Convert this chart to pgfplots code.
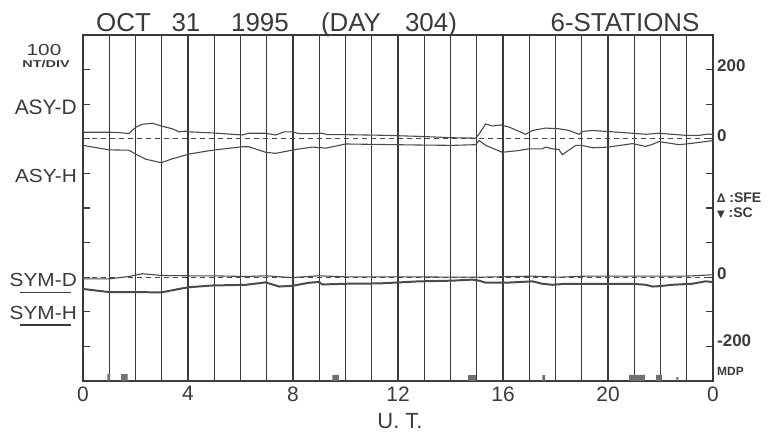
\documentclass[border=0pt]{standalone}
\usepackage{pgfplots}
\pgfplotsset{compat=1.18}
\usepackage{pgfplotstable}
\usepackage{fontspec}
\usepackage{graphicx}
\setmainfont{Liberation Sans}
\newfontfamily\symfont{DejaVu Sans}
\definecolor{ink}{HTML}{3A3A3A}
\definecolor{curve}{HTML}{4A4A4A}
\definecolor{bar}{HTML}{707070}

% ASY-D (nT, plotted upward from ASY baseline)
\pgfplotstableread{
h v
0 19
0.99 19
1.37 18
1.75 15
2.0 33
2.26 42
2.64 45
2.98 37
3.4 29
3.66 20
3.9 22
4.04 20
4.93 17
6.07 11
6.32 16
6.96 16
7.34 11
7.66 20
7.97 20
8.23 15
8.74 15
9.12 16
9.3 12
10.0 12
11.5 10
12.8 7
14.07 3
14.96 2
15.09 14
15.34 43
15.59 37
15.91 40
16.23 34
16.86 13
17.12 24
17.62 31
18.13 29
18.51 24
18.9 13
19.02 21
19.4 24
20.0 21
20.93 16
21.44 13
21.94 16
22.45 13
22.96 10
23.47 10
23.85 14
24 12
}\asyD

% ASY-H (nT, plotted downward from ASY baseline)
\pgfplotstableread{
h v
0 19
0.99 32
1.75 33
2.0 44
2.39 59
2.98 69
3.4 58
4.04 44
4.93 33
6.07 23
6.32 23
6.96 39
7.34 42
8.1 31
8.74 24
9.26 27
10 15
12.8 18
14.07 19
14.96 17
15.09 5
15.34 19
15.97 39
16.6 34
16.99 29
17.5 29
17.62 24
17.88 29
18.13 31
18.26 46
18.39 39
18.77 19
19.02 19
19.4 26
20 24
20.93 14
21.44 22
21.69 16
21.94 8
22.7 17
23.1 14
23.72 8
24 5
}\asyH

% SYM-D (nT)
\pgfplotstableread{
h v
0 -5
0.99 -5
1.75 2
2.26 10
2.98 5
4.04 4
4.93 4
6.2 2
6.96 4
7.34 2
7.97 -1
8.99 4
10 1
12.8 1
14.07 0
15.09 0
17.12 3
18.13 0
19.15 3
20.42 3
21.69 3
22.96 3
24 7
}\symD

% SYM-H (nT)
\pgfplotstableread{
h v
0 -34
0.99 -43
2.0 -43
2.98 -44
3.66 -34
4.04 -29
4.93 -24
6.2 -22
6.96 -15
7.47 -27
7.97 -25
8.61 -16
8.99 -14
9.12 -21
10 -19
11.3 -18
12.8 -12
14.07 -10
14.83 -7
15.09 -10
15.34 -16
16.1 -16
17.12 -12
17.5 -19
17.88 -22
18.39 -19
19.15 -19
20.42 -19
20.93 -19
21.44 -22
21.69 -27
21.94 -26
22.45 -22
23.2 -19
23.72 -12
24 -14
}\symH

% MDP bars (hour, height)
\pgfplotstableread{
h v
0 0
0.93 0
0.93 20
1.03 20
1.03 0
1.45 0
1.45 20
1.70 20
1.70 0
9.50 0
9.50 18
9.75 18
9.75 0
14.67 0
14.67 17
14.97 17
14.97 0
17.50 0
17.50 17
17.60 17
17.60 0
20.80 0
20.80 18
21.40 18
21.40 0
21.83 0
21.83 18
22.06 18
22.06 0
22.60 0
22.60 12
22.68 12
22.68 0
24 0
}\mdp

\begin{document}
\begin{tikzpicture}[x=1bp,y=1bp]
\useasboundingbox (-83,-53) rectangle (686,381);
\begin{axis}[
  at={(0,0)}, anchor=south west,
  scale only axis, width=630bp, height=346bp,
  xmin=0, xmax=24, ymin=0, ymax=1000,
  axis line style={ink, line width=1.5pt},
  xtick={0,1,...,24},
  xticklabels={0,,,,4,,,,8,,,,12,,,,16,,,,20,,,,0},
  xmajorgrids,
  major grid style={ink, line width=1.3pt},
  xtick style={draw=none},
  ytick={100,200,...,900}, yticklabels={},
  ytick pos=both, tick align=inside,
  major tick length=7bp,
  ytick style={ink, line width=1.2pt},
  /pgf/number format/assume math mode=true,
  xticklabel style={font=\fontsize{21}{22}\selectfont, text=ink, yshift=-2bp},
  clip=true,
]
\addplot[curve, line width=1.0pt, dash pattern=on 5bp off 4bp] coordinates {(0,700) (24,700)};
\addplot[curve, line width=1.0pt, dash pattern=on 5bp off 4bp] coordinates {(0,300) (24,300)};
\addplot[curve, line width=1.1pt] table[x=h, y expr=700+\thisrow{v}] {\asyD};
\addplot[curve, line width=1.1pt] table[x=h, y expr=700-\thisrow{v}] {\asyH};
\addplot[curve, line width=1.1pt] table[x=h, y expr=300+\thisrow{v}] {\symD};
\addplot[curve, line width=2.0pt] table[x=h, y expr=300+\thisrow{v}] {\symH};
\addplot[fill=bar, draw=none] table[x=h, y=v] {\mdp};
\end{axis}

% title
\begin{scope}[every node/.style={text=ink, inner sep=0pt, font=\fontsize{26}{28}\selectfont}]
\node[anchor=base] at (40.5,349) {OCT};
\node[anchor=base] at (103,349) {31};
\node[anchor=base] at (177,349) {1995};
\node[anchor=base] at (268,349) {(DAY};
\node[anchor=base] at (348,349) {304)};
\node[anchor=base] at (542,349) {6-STATIONS};
\end{scope}

% left labels
\begin{scope}[every node/.style={text=ink, inner sep=0pt}]
\node[anchor=base, font=\fontsize{16}{17}\selectfont] at (-39,325) {\scalebox{1.3}[1]{100}};
\node[anchor=base, font=\bfseries\fontsize{10}{11}\selectfont] at (-37,313) {\scalebox{1.45}[1]{NT/DIV}};
\node[anchor=base east, font=\fontsize{21}{22}\selectfont] at (-6,266) {ASY-D};
\node[anchor=base east, font=\fontsize{19}{20}\selectfont] at (-6,198) {\scalebox{1.1}[1]{ASY-H}};
\node[anchor=base east, font=\fontsize{19}{20}\selectfont] at (-6,94) {\scalebox{1.1}[1]{SYM-D}};
\node[anchor=base east, font=\fontsize{19}{20}\selectfont] at (-6,61) {\scalebox{1.1}[1]{SYM-H}};
\end{scope}
\draw[ink, line width=0.8pt] (-63,89) -- (-12,89);
\draw[ink, line width=2.2pt] (-63,56) -- (-12,56);

% right labels
\begin{scope}[every node/.style={text=ink, inner sep=0pt, anchor=base west, font=\bfseries\fontsize{17}{18}\selectfont}]
\node at (634,309) {200};
\node at (634,239) {0};
\node[font=\bfseries\fontsize{14}{15}\selectfont] at (634,178) {{\symfont\fontsize{12}{12}\selectfont ∆} :SFE};
\node[font=\bfseries\fontsize{14}{15}\selectfont] at (634,163) {{\symfont\fontsize{10}{12}\selectfont ▼} :SC};
\node at (634,101) {0};
\node at (634,34) {-200};
\node[font=\bfseries\fontsize{12}{13}\selectfont] at (634,5) {MDP};
\end{scope}

% x axis label
\node[anchor=base, text=ink, inner sep=0pt, font=\fontsize{22}{24}\selectfont] at (317,-48) {U. T.};
\end{tikzpicture}
\end{document}
